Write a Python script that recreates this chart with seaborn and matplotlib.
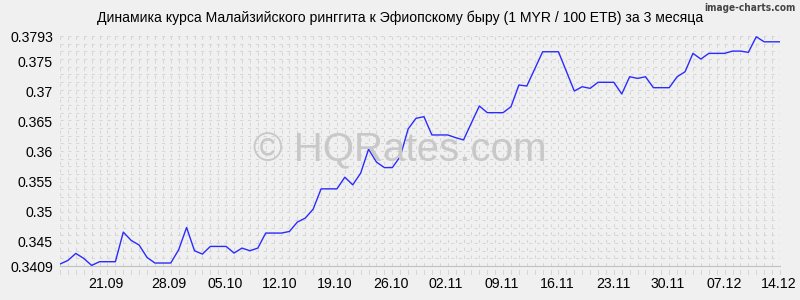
import numpy as np
import pandas as pd
import matplotlib
matplotlib.use("Agg")
import matplotlib.pyplot as plt
import seaborn as sns

# ---- data ----
rate = [
    0.34123, 0.34183, 0.34300, 0.34217, 0.34100, 0.34162, 0.34162, 0.34162,
    0.34656, 0.34517, 0.34440, 0.34233, 0.34140, 0.34140, 0.34140, 0.34362,
    0.34733, 0.34345, 0.34289, 0.34417, 0.34417, 0.34417, 0.34306, 0.34389,
    0.34345, 0.34389, 0.34640, 0.34640, 0.34640, 0.34667, 0.34823, 0.34890,
    0.35040, 0.35378, 0.35378, 0.35378, 0.35573, 0.35445, 0.35640, 0.36040,
    0.35825, 0.35733, 0.35733, 0.35917, 0.36378, 0.36556, 0.36583, 0.36278,
    0.36278, 0.36278, 0.36233, 0.36195, 0.36480, 0.36762, 0.36650, 0.36650,
    0.36650, 0.36750, 0.37112, 0.37095, 0.37380, 0.37667, 0.37667, 0.37667,
    0.37340, 0.37012, 0.37083, 0.37056, 0.37157, 0.37157, 0.37157, 0.36962,
    0.37250, 0.37222, 0.37250, 0.37067, 0.37067, 0.37067, 0.37250, 0.37333,
    0.37640, 0.37545, 0.37640, 0.37640, 0.37640, 0.37678, 0.37678, 0.37657,
    0.37917, 0.37833, 0.37833, 0.37833,
]
day_index = list(range(len(rate)))

x_tick_labels = ["21.09", "28.09", "05.10", "12.10", "19.10", "26.10", "02.11",
                 "09.11", "16.11", "23.11", "30.11", "07.12", "14.12"]
x_tick_pos = [5.8, 13.75, 20.85, 27.8, 34.75, 41.85, 48.8, 55.85, 62.8, 69.9, 76.85, 83.9, 90.85]

y_ticks = [0.3409, 0.345, 0.35, 0.355, 0.36, 0.365, 0.37, 0.375, 0.3793]
y_tick_labels = ["0.3409", "0.345", "0.35", "0.355", "0.36", "0.365", "0.37", "0.375", "0.3793"]

title = "Динамика курса Малайзийского ринггита к Эфиопскому быру (1 MYR / 100 ETB) за 3 месяца"

df = pd.DataFrame({"day": day_index, "rate": rate})

# ---- style ----
sns.set_style("white")
plt.rcParams["font.family"] = ["Liberation Sans", "DejaVu Sans"]
bg = "#f0f0f0"

fig = plt.figure(figsize=(8, 3), dpi=100, facecolor=bg)
ax = fig.add_axes([0.075, 0.1133, 0.9, 0.7667], facecolor=bg)

ymin, ymax = 0.3409, 0.3793
xmin, xmax = 0, len(rate) - 1

# dashed grid
grid_kw = dict(color="#d6d6d6", lw=0.75, dashes=(3, 4.5), zorder=0)
for gy in np.linspace(ymin, ymax, 31)[1:]:
    ax.axhline(gy, **grid_kw)
for gx in day_index:
    ax.axvline(gx, **grid_kw)

# watermark
fig.text(0.5, 0.5, "© HQRates.com", ha="center", va="center",
         fontsize=29, color="#c8c8c8", zorder=1)

sns.lineplot(data=df, x="day", y="rate", ax=ax, color="#2b2bff", lw=1.0, zorder=3)

ax.set_xlim(xmin, xmax)
ax.set_ylim(ymin, ymax)
ax.set_yticks(y_ticks)
ax.set_yticklabels(y_tick_labels)
ax.set_xticks(x_tick_pos)
ax.set_xticklabels(x_tick_labels)
ax.set_xlabel("")
ax.set_ylabel("")
ax.tick_params(axis="both", labelsize=10.2, colors="#000000", length=0, pad=5)
ax.tick_params(axis="x", pad=8)

for s in ["top", "right"]:
    ax.spines[s].set_visible(False)
ax.spines["left"].set_visible(False)
ax.spines["bottom"].set_color("#c0c0c0")
ax.spines["bottom"].set_linewidth(0.8)

# small tick dashes below the axis
for gx in day_index:
    ax.plot([gx, gx], [ymin - 0.0006, ymin - 0.0013], color="#d6d6d6", lw=0.75,
            clip_on=False, zorder=0)

fig.text(0.5, 0.94, title, ha="center", va="center", fontsize=10.1, color="#000000")
fig.text(0.994, 0.99, "image-charts.com", ha="right", va="top", fontsize=7.2,
         color="#444444", family=["DejaVu Sans"], stretch="condensed", weight="bold")

fig.savefig("out.png", dpi=100, facecolor=bg)
